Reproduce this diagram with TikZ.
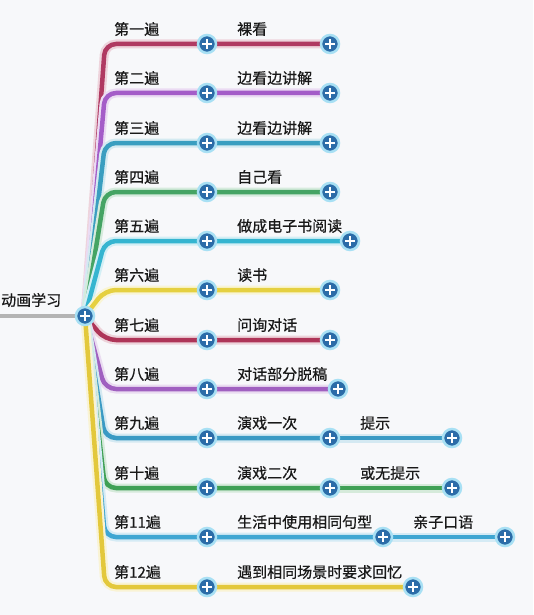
\documentclass[tikz,border=0pt]{standalone}
\usepackage{fontspec}
\setmainfont{Noto Sans CJK SC}[FakeBold=0.6]
\definecolor{bgc}{HTML}{F7F8FA}
\definecolor{pblue}{HTML}{2B6CA8}
\definecolor{pglow}{HTML}{A8E0F4}
\definecolor{rootc}{HTML}{B4B4B4}
\definecolor{c1}{HTML}{B03A62}
\definecolor{c2}{HTML}{A45CC8}
\definecolor{c3}{HTML}{3A9EC0}
\definecolor{c4}{HTML}{45A464}
\definecolor{c5}{HTML}{35B5D0}
\definecolor{c6}{HTML}{E5D040}
\definecolor{c7}{HTML}{AE3558}
\definecolor{c8}{HTML}{A060C0}
\definecolor{c9}{HTML}{3A9AC4}
\definecolor{c10}{HTML}{3FA055}
\definecolor{c11}{HTML}{3FA6D2}
\definecolor{c12}{HTML}{E3C83C}
\pgfdeclarelayer{bg}
\pgfdeclarelayer{lines}
\pgfsetlayers{bg,lines,main}
\tikzset{
  plusnode/.style={circle, minimum size=18pt, inner sep=0pt, fill=pblue, draw=pglow, line width=2.5pt,
    path picture={
      \draw[white, line width=2.4pt]
        ([xshift=-4.8pt]path picture bounding box.center) -- ([xshift=4.8pt]path picture bounding box.center)
        ([yshift=-4.8pt]path picture bounding box.center) -- ([yshift=4.8pt]path picture bounding box.center);
    }},
  lbl/.style={anchor=west, inner sep=0pt, font=\fontsize{15}{15}\selectfont, text=black!90},
  br/.style={draw=#1, line width=4.5pt, rounded corners=11pt,
    preaction={draw=#1!22, line width=9pt}}
}
\begin{document}
\begin{tikzpicture}[x=1pt,y=-1pt]
\begin{pgfonlayer}{bg}
  \fill[bgc] (0,0) rectangle (533,615);
\end{pgfonlayer}
\useasboundingbox (0,0) rectangle (533,615);
\coordinate (rootin) at (0,316);
\node[plusnode] (root) at (85,316) {};
\node[lbl, anchor=west] (rootlbl) at (1,300) {动画学习};
\begin{pgfonlayer}{lines}
  \draw[draw=rootc, line width=4pt] (rootin) -- (root.center);
\end{pgfonlayer}
\foreach \i/\y/\c/\a/\b/\xb in {
  1/44/c1/第一遍/裸看/330,
  2/93/c2/第二遍/边看边讲解/330,
  3/143/c3/第三遍/边看边讲解/330,
  4/192/c4/第四遍/自己看/330,
  5/241/c5/第五遍/做成电子书阅读/350,
  6/290/c6/第六遍/读书/330,
  7/340/c7/第七遍/问询对话/330,
  8/389/c8/第八遍/对话部分脱稿/338,
  9/438/c9/第九遍/演戏一次/330,
  10/488/c10/第十遍/演戏二次/330,
  11/537/c11/第11遍/生活中使用相同句型/383,
  12/587/c12/第12遍/遇到相同场景时要求回忆/413}{
  \node[plusnode] (p\i a) at (207,\y) {};
  \node[plusnode] (p\i b) at (\xb,\y) {};
  \node[lbl] (l\i a) at (114,\y-15) {\a};
  \node[lbl] (l\i b) at (237,\y-15) {\b};
  \begin{pgfonlayer}{lines}
    \draw[br=\c] (root.center) -- (105,\y) -- (p\i a.center) -- (p\i b.center);
  \end{pgfonlayer}
}
% third level
\node[plusnode] (p9c) at (452,438) {};
\node[lbl] (l9c) at (360,423) {提示};
\node[plusnode] (p10c) at (452,488) {};
\node[lbl] (l10c) at (360,473) {或无提示};
\node[plusnode] (p11c) at (505,537) {};
\node[lbl] (l11c) at (413,522) {亲子口语};
\begin{pgfonlayer}{lines}
  \draw[br=c9] (p9b.center) -- (p9c.center);
  \draw[br=c10] (p10b.center) -- (p10c.center);
  \draw[br=c11] (p11b.center) -- (p11c.center);
\end{pgfonlayer}
\end{tikzpicture}
\end{document}
